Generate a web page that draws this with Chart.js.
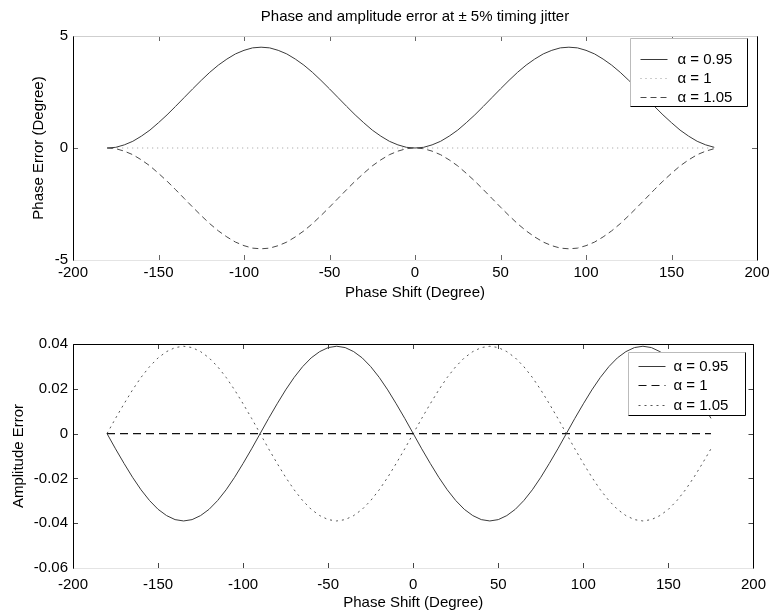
<!DOCTYPE html>
<html>
<head>
<meta charset="utf-8">
<script src="https://cdn.jsdelivr.net/npm/chart.js@4.4.1/dist/chart.umd.min.js"></script>
<style>
  html, body { margin: 0; padding: 0; background: #fff; }
  #pagina { position: relative; width: 774px; height: 616px; }
  .panel { position: absolute; left: 0; width: 774px; }
</style>
</head>
<body>
<div id="pagina">
  <div class="panel" style="top:0;height:310px"><canvas id="grafico-fase"></canvas></div>
  <div class="panel" style="top:310px;height:306px"><canvas id="grafico-amplitud"></canvas></div>
</div>
<script>
// Desfase (grados), de -180 a 175
const faseGrados = [
  -180, -175, -170, -165, -160, -155, -150, -145, -140, -135, -130, -125,
  -120, -115, -110, -105, -100, -95, -90, -85, -80, -75, -70, -65,
  -60, -55, -50, -45, -40, -35, -30, -25, -20, -15, -10, -5,
  0, 5, 10, 15, 20, 25, 30, 35, 40, 45, 50, 55,
  60, 65, 70, 75, 80, 85, 90, 95, 100, 105, 110, 115,
  120, 125, 130, 135, 140, 145, 150, 155, 160, 165, 170, 175
];

const errorFase095 = [
  0, 0.03, 0.14, 0.30, 0.53, 0.80, 1.13, 1.48, 1.86, 2.25, 2.64, 3.02,
  3.38, 3.70, 3.97, 4.20, 4.36, 4.47, 4.50, 4.47, 4.36, 4.20, 3.97, 3.70,
  3.38, 3.02, 2.64, 2.25, 1.86, 1.48, 1.13, 0.80, 0.53, 0.30, 0.14, 0.03,
  0, 0.03, 0.14, 0.30, 0.53, 0.80, 1.13, 1.48, 1.86, 2.25, 2.64, 3.02,
  3.38, 3.70, 3.97, 4.20, 4.36, 4.47, 4.50, 4.47, 4.36, 4.20, 3.97, 3.70,
  3.38, 3.02, 2.64, 2.25, 1.86, 1.48, 1.13, 0.80, 0.53, 0.30, 0.14, 0.03
];
const errorFase1 = [
  0, 0, 0, 0, 0, 0, 0, 0, 0, 0, 0, 0,
  0, 0, 0, 0, 0, 0, 0, 0, 0, 0, 0, 0,
  0, 0, 0, 0, 0, 0, 0, 0, 0, 0, 0, 0,
  0, 0, 0, 0, 0, 0, 0, 0, 0, 0, 0, 0,
  0, 0, 0, 0, 0, 0, 0, 0, 0, 0, 0, 0,
  0, 0, 0, 0, 0, 0, 0, 0, 0, 0, 0, 0
];
const errorFase105 = [
  0, -0.03, -0.14, -0.30, -0.53, -0.80, -1.13, -1.48, -1.86, -2.25, -2.64, -3.02,
  -3.38, -3.70, -3.97, -4.20, -4.36, -4.47, -4.50, -4.47, -4.36, -4.20, -3.97, -3.70,
  -3.38, -3.02, -2.64, -2.25, -1.86, -1.48, -1.13, -0.80, -0.53, -0.30, -0.14, -0.03,
  0, -0.03, -0.14, -0.30, -0.53, -0.80, -1.13, -1.48, -1.86, -2.25, -2.64, -3.02,
  -3.38, -3.70, -3.97, -4.20, -4.36, -4.47, -4.50, -4.47, -4.36, -4.20, -3.97, -3.70,
  -3.38, -3.02, -2.64, -2.25, -1.86, -1.48, -1.13, -0.80, -0.53, -0.30, -0.14, -0.03
];

const errorAmp095 = [
  0, -0.0068, -0.0133, -0.0195, -0.0251, -0.0299, -0.0338, -0.0366, -0.0384, -0.039, -0.0384, -0.0366,
  -0.0338, -0.0299, -0.0251, -0.0195, -0.0133, -0.0068, 0, 0.0068, 0.0133, 0.0195, 0.0251, 0.0299,
  0.0338, 0.0366, 0.0384, 0.039, 0.0384, 0.0366, 0.0338, 0.0299, 0.0251, 0.0195, 0.0133, 0.0068,
  0, -0.0068, -0.0133, -0.0195, -0.0251, -0.0299, -0.0338, -0.0366, -0.0384, -0.039, -0.0384, -0.0366,
  -0.0338, -0.0299, -0.0251, -0.0195, -0.0133, -0.0068, 0, 0.0068, 0.0133, 0.0195, 0.0251, 0.0299,
  0.0338, 0.0366, 0.0384, 0.039, 0.0384, 0.0366, 0.0338, 0.0299, 0.0251, 0.0195, 0.0133, 0.0068
];
const errorAmp1 = errorFase1.slice();
const errorAmp105 = [
  0, 0.0068, 0.0133, 0.0195, 0.0251, 0.0299, 0.0338, 0.0366, 0.0384, 0.039, 0.0384, 0.0366,
  0.0338, 0.0299, 0.0251, 0.0195, 0.0133, 0.0068, 0, -0.0068, -0.0133, -0.0195, -0.0251, -0.0299,
  -0.0338, -0.0366, -0.0384, -0.039, -0.0384, -0.0366, -0.0338, -0.0299, -0.0251, -0.0195, -0.0133, -0.0068,
  0, 0.0068, 0.0133, 0.0195, 0.0251, 0.0299, 0.0338, 0.0366, 0.0384, 0.039, 0.0384, 0.0366,
  0.0338, 0.0299, 0.0251, 0.0195, 0.0133, 0.0068, 0, -0.0068, -0.0133, -0.0195, -0.0251, -0.0299,
  -0.0338, -0.0366, -0.0384, -0.039, -0.0384, -0.0366, -0.0338, -0.0299, -0.0251, -0.0195, -0.0133, -0.0068
];

const etiquetasAlfa = ['α = 0.95', 'α = 1', 'α = 1.05'];

const FUENTE = '"Liberation Sans", Arial, Helvetica, sans-serif';
Chart.defaults.font.family = FUENTE;
Chart.defaults.font.size = 15;
Chart.defaults.color = '#000';

const puntos = (serie) => faseGrados.map((x, i) => ({ x: x, y: serie[i] }));

// Caja de ejes, marcas hacia adentro y leyenda dentro del área (estilo MATLAB)
const marcoEjes = {
  id: 'marcoEjes',
  afterDraw(chart, args, opts) {
    const { ctx, chartArea: a } = chart;
    const sx = chart.scales.x, sy = chart.scales.y;
    ctx.save();
    ctx.lineWidth = 1;

    ctx.strokeStyle = opts.colorMarcas;
    ctx.beginPath();
    sx.ticks.forEach(t => {
      const px = Math.round(sx.getPixelForValue(t.value)) + 0.5;
      ctx.moveTo(px, a.bottom); ctx.lineTo(px, a.bottom - 5);
      ctx.moveTo(px, a.top); ctx.lineTo(px, a.top + 5);
    });
    sy.ticks.forEach(t => {
      const py = Math.round(sy.getPixelForValue(t.value)) + 0.5;
      ctx.moveTo(a.left, py); ctx.lineTo(a.left + 5, py);
      ctx.moveTo(a.right, py); ctx.lineTo(a.right - 5, py);
    });
    ctx.stroke();

    const l = Math.round(a.left) + 0.5, r = Math.round(a.right) + 0.5;
    const t = Math.round(a.top) + 0.5, b = Math.round(a.bottom) + 0.5;
    const lado = (color, x0, y0, x1, y1) => {
      ctx.strokeStyle = color;
      ctx.beginPath(); ctx.moveTo(x0, y0); ctx.lineTo(x1, y1); ctx.stroke();
    };
    lado(opts.bordes.top, l, t, r, t);
    lado(opts.bordes.bottom, l, b, r, b);
    lado(opts.bordes.left, l, t, l, b);
    lado(opts.bordes.right, r, t, r, b);

    // leyenda
    const ley = opts.leyenda;
    const bx = Math.round(a.right - ley.derecha - ley.ancho) + 0.5;
    const by = Math.round(a.top + ley.arriba) + 0.5;
    ctx.fillStyle = '#fff';
    ctx.fillRect(bx, by, ley.ancho, ley.alto);
    lado('#bbb', bx, by, bx + ley.ancho, by);
    lado('#bbb', bx, by, bx, by + ley.alto);
    lado('#000', bx + ley.ancho, by, bx + ley.ancho, by + ley.alto);
    lado('#000', bx, by + ley.alto, bx + ley.ancho, by + ley.alto);

    ctx.font = '15px ' + FUENTE;
    ctx.textBaseline = 'middle';
    ctx.textAlign = 'left';
    chart.data.datasets.forEach((ds, i) => {
      const y = Math.round(by + ley.fila0 + i * ley.paso) + 0.5;
      ctx.setLineDash(ds.borderDash || []);
      ctx.lineWidth = ds.borderWidth;
      ctx.strokeStyle = ds.borderColor;
      ctx.beginPath(); ctx.moveTo(bx + ley.linea0, y); ctx.lineTo(bx + ley.linea1, y); ctx.stroke();
      ctx.setLineDash([]);
      ctx.fillStyle = '#000';
      ctx.fillText(ds.label, bx + ley.texto, y);
    });
    ctx.restore();
  }
};

window.addEventListener("DOMContentLoaded", () => {
  // 1. Error de fase
  const ctx1 = document.getElementById("grafico-fase").getContext("2d");
  new Chart(ctx1, {
    type: "line",
    data: {
      datasets: [
        { label: etiquetasAlfa[0], data: puntos(errorFase095), borderColor: '#3a3a3a', borderWidth: 1, pointRadius: 0 },
        { label: etiquetasAlfa[1], data: puntos(errorFase1), borderColor: '#9a9a9a', borderWidth: 1, borderDash: [1, 4], pointRadius: 0 },
        { label: etiquetasAlfa[2], data: puntos(errorFase105), borderColor: '#4a4a4a', borderWidth: 1, borderDash: [6, 4], pointRadius: 0 }
      ]
    },
    options: {
      responsive: true,
      maintainAspectRatio: false,
      animation: false,
      layout: { padding: { top: 0, right: 17, bottom: 0, left: 0 } },
      plugins: {
        legend: { display: false },
        tooltip: { enabled: false },
        title: {
          display: true,
          fullSize: false,
          text: 'Phase and amplitude error at ± 5% timing jitter',
          font: { size: 15, weight: 'normal' },
          color: '#000',
          padding: { top: 8, bottom: 10 }
        },
        marcoEjes: {
          colorMarcas: '#666',
          bordes: { top: '#cfcfcf', bottom: '#e4e4e4', left: '#000', right: '#000' },
          leyenda: { derecha: 10, arriba: 2, ancho: 117, alto: 68, fila0: 20, paso: 19, linea0: 10, linea1: 37, texto: 47 }
        }
      },
      scales: {
        x: {
          type: 'linear', min: -200, max: 200,
          ticks: { stepSize: 50, padding: 4 },
          grid: { display: false, drawTicks: false },
          border: { display: false },
          title: { display: true, text: 'Phase Shift (Degree)', padding: { top: 0, bottom: 8 } },
          afterFit: (s) => { s.height = 50; }
        },
        y: {
          min: -5, max: 5,
          ticks: { stepSize: 5, padding: 5 },
          grid: { display: false, drawTicks: false },
          border: { display: false },
          title: { display: true, text: 'Phase Error (Degree)', padding: { top: 30, bottom: 0 } },
          afterFit: (s) => { s.width = 73; }
        }
      }
    },
    plugins: [marcoEjes]
  });

  // 2. Error de amplitud
  const ctx2 = document.getElementById("grafico-amplitud").getContext("2d");
  new Chart(ctx2, {
    type: "line",
    data: {
      datasets: [
        { label: etiquetasAlfa[0], data: puntos(errorAmp095), borderColor: '#3a3a3a', borderWidth: 1, pointRadius: 0 },
        { label: etiquetasAlfa[1], data: puntos(errorAmp1), borderColor: '#111', borderWidth: 1.2, borderDash: [8, 5], pointRadius: 0 },
        { label: etiquetasAlfa[2], data: puntos(errorAmp105), borderColor: '#555', borderWidth: 1, borderDash: [2, 4], pointRadius: 0 }
      ]
    },
    options: {
      responsive: true,
      maintainAspectRatio: false,
      animation: false,
      layout: { padding: { top: 34, right: 16, bottom: 0, left: 0 } },
      plugins: {
        legend: { display: false },
        tooltip: { enabled: false },
        marcoEjes: {
          colorMarcas: '#444',
          bordes: { top: '#000', bottom: '#e4e4e4', left: '#000', right: '#000' },
          leyenda: { derecha: 8, arriba: 8, ancho: 117, alto: 63, fila0: 13, paso: 19.5, linea0: 10, linea1: 37, texto: 45 }
        }
      },
      scales: {
        x: {
          type: 'linear', min: -200, max: 200,
          ticks: { stepSize: 50, padding: 8 },
          grid: { display: false, drawTicks: false },
          border: { display: false },
          title: { display: true, text: 'Phase Shift (Degree)', padding: { top: 0, bottom: 4 } },
          afterFit: (s) => { s.height = 48; }
        },
        y: {
          min: -0.06, max: 0.04,
          ticks: { stepSize: 0.02, padding: 5 },
          grid: { display: false, drawTicks: false },
          border: { display: false },
          title: { display: true, text: 'Amplitude Error', padding: { top: 10, bottom: 0 } },
          afterFit: (s) => { s.width = 73; }
        }
      }
    },
    plugins: [marcoEjes]
  });
});
</script>
</body>
</html>
